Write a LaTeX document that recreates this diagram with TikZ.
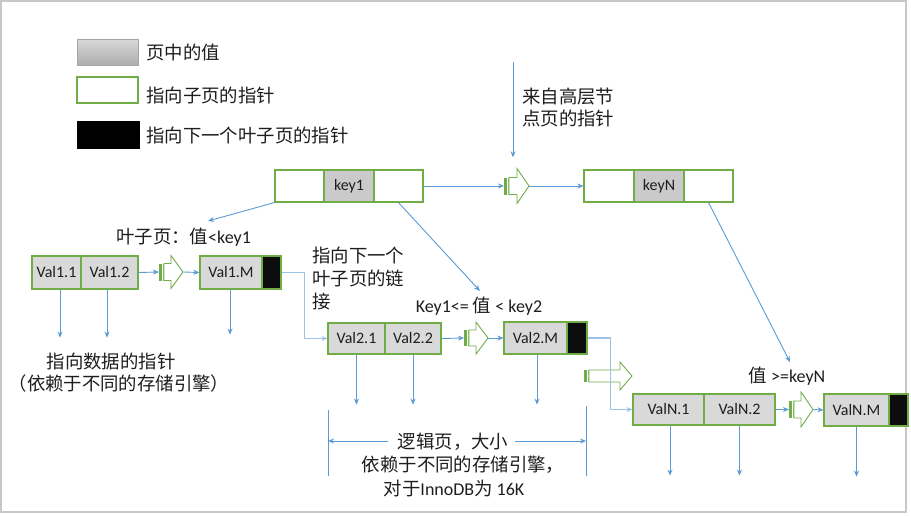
\documentclass[tikz,border=0pt]{standalone}
\usepackage{fontspec}
\setmainfont{Carlito}
\newfontfamily\cjkfam{Noto Sans CJK SC}
\newcommand\zh[1]{{\fontsize{18.4}{22}\cjkfam #1}}
\usetikzlibrary{arrows.meta,calc}
\definecolor{pgreen}{HTML}{70AD47}
\definecolor{pblue}{HTML}{5B9BD5}
\definecolor{plblue}{HTML}{9DC3E6}
\definecolor{cellgray}{HTML}{D9D9D9}
\definecolor{keygray}{HTML}{CACACA}
\definecolor{framegray}{HTML}{C8C8C8}
\definecolor{txtc}{HTML}{1E1E1E}
\tikzset{
  cell/.style={draw=pgreen, line width=1.1pt, fill=cellgray, inner sep=0pt,
    minimum height=32, text=txtc, font=\fontsize{16}{19}\selectfont},
  kcell/.style={cell, fill=keygray},
  wcell/.style={cell, fill=white},
  bcell/.style={cell, fill=black!95},
  txt/.style={inner sep=0pt, text=txtc, font=\fontsize{18}{22}\selectfont},
  ztxt/.style={inner sep=0pt, text=txtc, font=\fontsize{18.4}{22.5}\cjkfam},
  ptr/.style={draw=pblue, line width=0.9pt, -{Stealth[length=6pt,width=5pt]}},
  link/.style={draw=plblue, line width=1.5pt, -{Stealth[length=6pt,width=5pt]}, color=plblue},
  dimline/.style={draw=pblue, line width=0.9pt},
  pics/sarr/.style n args={4}{code={
    \node[inner sep=0pt, minimum width=#1, minimum height=2*#2, anchor=west] (-b) at (0,0) {};
    \fill[pgreen] (0,-#3) rectangle (2.5,#3);
    \fill[pgreen!75] (3.6,-#3) rectangle (5,#3);
    \draw[pgreen, line width=0.9pt, fill=white] (5,-#3) -- (#4,-#3) -- (#4,-#2) -- (#1,0)
       -- (#4,#2) -- (#4,#3) -- (5,#3) -- cycle;
  }}
}
\begin{document}
\begin{tikzpicture}[x=1pt,y=-1pt]
\useasboundingbox (0,0) rectangle (911,515);
\fill[white] (0,0) rectangle (911,515);
\draw[framegray, line width=1.5pt] (1,1) rectangle (906,512);

% legend
\node[draw=black!35, line width=0.8pt, top color=black!15, bottom color=black!32,
  minimum width=61, minimum height=26, inner sep=0pt] (lgA) at (107.5,52) {};
\node[draw=pgreen, line width=1.1pt, fill=white, minimum width=61, minimum height=26, inner sep=0pt] (lgB) at (107.5,90) {};
\node[draw=black, fill=black, minimum width=62, minimum height=27, inner sep=0pt] (lgC) at (108,134.5) {};
\node[ztxt, anchor=west] (lgAt) at (146,52) {页中的值};
\node[ztxt, anchor=west] (lgBt) at (146,95) {指向子页的指针};
\node[ztxt, anchor=west] (lgCt) at (146,135) {指向下一个叶子页的指针};

% root level
\node[wcell, minimum width=49] (k1a) at (299.5,186) {};
\node[kcell, minimum width=50] (k1b) at (349,186) {key1};
\node[wcell, minimum width=49] (k1c) at (398.5,186) {};
\pic (sa1) at (504,186) {sarr={25}{17.5}{8.5}{13}};
\node[wcell, minimum width=50] (kNa) at (609,186) {};
\node[kcell, minimum width=50] (kNb) at (659,186) {keyN};
\node[wcell, minimum width=49] (kNc) at (708.5,186) {};
\node[ztxt, anchor=west, align=left, font=\fontsize{18.4}{22}\cjkfam] (hi) at (522,108) {来自高层节\\点页的指针};
\coordinate (tp) at (513,62);
\draw[ptr, shorten >=11pt] (tp) -- (tp |- sa1-b.north);
\draw[ptr] (k1c.east) -- (sa1-b.west);
\draw[ptr] (sa1-b.east) -- (kNa.west);

% leaf 1
\node[cell, minimum width=49, minimum height=33] (L1a) at (56.5,272.5) {Val1.1};
\node[cell, minimum width=57, minimum height=33] (L1b) at (109.5,272.5) {Val1.2};
\pic (sa2) at (159,272) {sarr={24}{16.5}{8.5}{12}};
\node[cell, minimum width=62, minimum height=33] (L1M) at (231,272.5) {Val1.M};
\node[bcell, minimum width=19, minimum height=33] (L1X) at (271.5,272.5) {};
\draw[ptr] (L1b.east) -- (sa2-b.west);
\draw[ptr] (sa2-b.east) -- (L1M.west);
\draw[ptr] ([xshift=3.5]L1a.south) -- ++(0,48);
\draw[ptr] ([xshift=-2.5]L1b.south) -- ++(0,48);
\draw[ptr] ([xshift=-1]L1M.south) -- ++(0,45);
\node[txt, anchor=west] (lab1) at (116,237) {\zh{叶子页：值}<key1};
\coordinate (e1) at (208,221);
\draw[ptr] (k1a.south west) -- (e1);
\node[ztxt, anchor=north west, align=left, font=\fontsize{18.4}{23}\cjkfam] (lnk) at (312,247) {指向下一个\\叶子页的链\\接};
\node[ztxt] (dp1) at (111,361) {指向数据的指针};
\node[ztxt] (dp2) at (119,384) {（依赖于不同的存储引擎）};

% leaf 2
\node[cell, minimum width=57, minimum height=31] (L2a) at (356.5,338.5) {Val2.1};
\node[cell, minimum width=56, minimum height=31] (L2b) at (413,338.5) {Val2.2};
\pic (sa3) at (464,338) {sarr={24}{16}{8}{12}};
\node[cell, minimum width=63, minimum height=32] (L2M) at (535.5,338) {Val2.M};
\node[bcell, minimum width=20, minimum height=32] (L2X) at (577,338) {};
\draw[ptr] (L2b.east) -- (sa3-b.west);
\draw[ptr] (sa3-b.east) -- (L2M.west);
\draw[ptr] (L2a.south) -- ++(0,50);
\draw[ptr] (L2b.south) -- ++(0,50);
\draw[ptr] ([xshift=1.5]L2M.south) -- ++(0,50);
\node[txt] (lab2) at (479,306) {Key1<= \zh{值} < key2};
\coordinate (e2) at (480,291);
\draw[ptr] (k1c.south) -- (e2);
\draw[link] (L1X.east) -- ++(23,0) |- (L2a.west);

% leaf N
\node[cell, minimum width=71, minimum height=31] (LNa) at (668.5,409.5) {ValN.1};
\node[cell, minimum width=71, minimum height=31] (LNb) at (739.5,409.5) {ValN.2};
\pic (sa5) at (789,409.5) {sarr={24}{17.5}{8.5}{12}};
\node[cell, minimum width=65, minimum height=32] (LNM) at (856.5,410) {ValN.M};
\node[bcell, minimum width=19, minimum height=32] (LNX) at (898.5,410) {};
\draw[ptr] (LNb.east) -- (sa5-b.west);
\draw[ptr] (sa5-b.east) -- (LNM.west);
\draw[ptr] ([xshift=1.5]LNa.south) -- ++(0,50);
\draw[ptr] (LNb.south) -- ++(0,50);
\draw[ptr] (LNM.south) -- ++(0,50);
\node[txt] (lab3) at (787,376) {\zh{值} >=keyN};
\coordinate (e3) at (790,362);
\draw[ptr] (kNc.south) -- (e3);
\pic (sa4) at (584,376) {sarr={48}{14}{6}{36}};
\draw[link] (L2X.east) -- ++(23,0) |- (LNa.west);

% logical page dimension
\coordinate (d1t) at (328,410);
\coordinate (d1b) at (328,476);
\coordinate (d2t) at (586,406);
\coordinate (d2b) at (586,476);
\draw[dimline] (d1t) -- (d1b);
\draw[dimline] (d2t) -- (d2b);
\node[ztxt] (lj1) at (453,442) {逻辑页，大小};
\node[ztxt] (lj2) at (463,465) {依赖于不同的存储引擎，};
\node[txt] (lj3) at (454,488) {\zh{对于}InnoDB\zh{为} 16K};
\draw[ptr] ([xshift=-10,yshift=1]lj1.west) -- ([yshift=1]lj1.west -| d1t);
\draw[ptr] ([xshift=7,yshift=1]lj1.east) -- ([yshift=1]lj1.east -| d2t);
\end{tikzpicture}
\end{document}
